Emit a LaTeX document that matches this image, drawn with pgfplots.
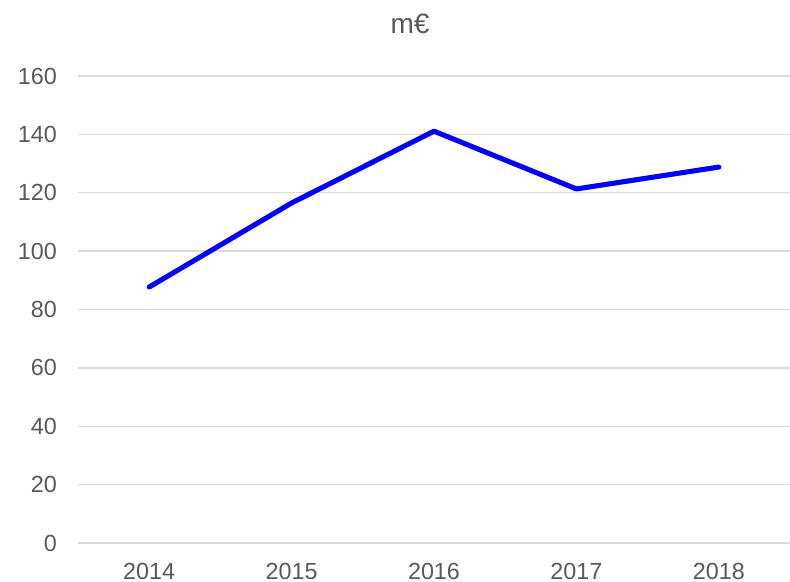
\documentclass[border=0pt]{standalone}
\usepackage{fontspec}
\setmainfont{Liberation Sans}
\usepackage{pgfplots}
\pgfplotsset{compat=1.18}
\definecolor{txtc}{HTML}{595959}
\definecolor{gridc}{HTML}{D9D9D9}
\begin{document}
\begin{tikzpicture}[x=1pt,y=1pt]
\path[use as bounding box] (0,0) rectangle (592.5,436.5);
\begin{axis}[
  at={(58.5pt,29.25pt)}, anchor=south west,
  scale only axis, width=534pt, height=350.25pt,
  xmin=-0.5, xmax=4.5, ymin=0, ymax=160,
  xtick={0,1,2,3,4}, xticklabels={2014,2015,2016,2017,2018},
  ytick={0,20,...,160},
  ymajorgrids=true, xmajorgrids=false,
  y grid style={gridc, line width=1.1pt},
  axis line style={draw=none},
  major tick length=0pt,
  tick label style={text=txtc, font=\fontsize{17.5}{20}\selectfont},
  /pgf/number format/assume math mode=true,
  yticklabel style={xshift=-12.4pt},
  xticklabel style={inner sep=0pt, yshift=-14.6pt},
  clip=false,
]
\addplot[color=blue, line width=3.8pt, line join=round, line cap=round] coordinates {
 (0,87.7) (1,116.5) (2,141.1) (3,121.3) (4,128.8)
};
\end{axis}
\node[text=txtc, font=\fontsize{21}{24}\selectfont] at (307.5,418.5) {m€};
\end{tikzpicture}
\end{document}
